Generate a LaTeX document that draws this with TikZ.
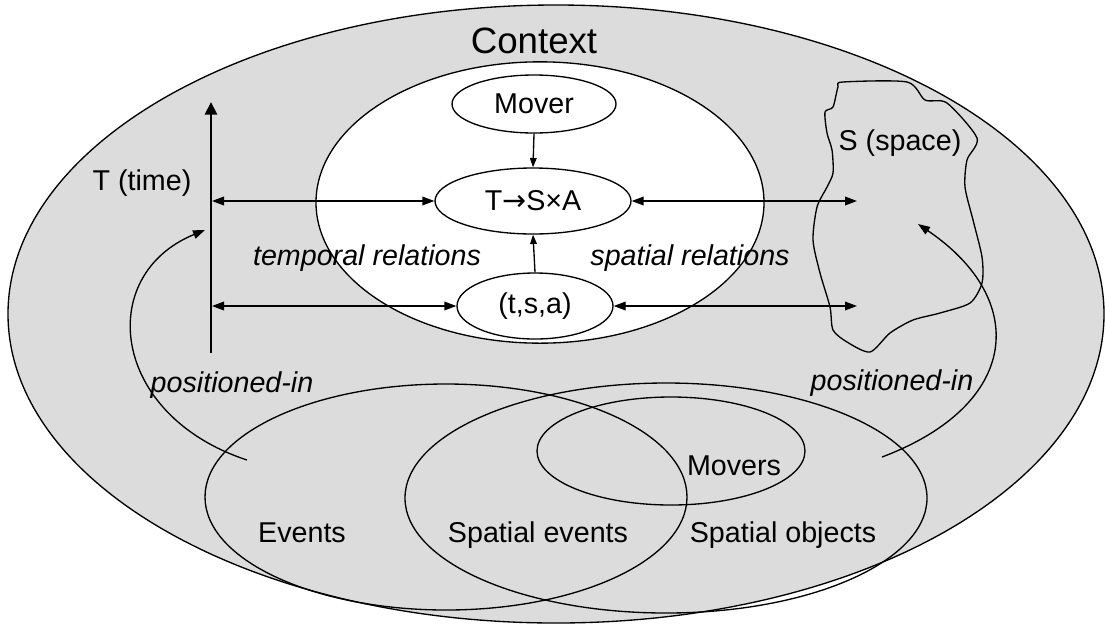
\documentclass[tikz,border=0pt]{standalone}
\usepackage{fontspec}
\setmainfont{Liberation Sans}
\newfontfamily\arrowfont{DejaVu Sans}
\usetikzlibrary{arrows.meta,shapes.geometric}
\definecolor{ctxgray}{RGB}{220,220,220}
\begin{document}
\begin{tikzpicture}[x=0.75pt,y=-0.75pt,
  lbl/.style={font=\fontsize{21.5}{25}\selectfont, inner sep=0pt, text height=15.4pt, text depth=0pt},
  ital/.style={lbl, font=\fontsize{21.5}{25}\selectfont\itshape},
  ell/.style={ellipse, draw, line width=1pt, inner sep=0pt, font=\fontsize{21.5}{25}\selectfont},
  arr/.style={line width=1pt, -{Triangle[length=9pt,width=6.5pt]}},
  sarr/.style={line width=1pt, -{Triangle[length=7pt,width=5pt]}},
  darr/.style={line width=1pt, {Triangle[length=9pt,width=6.5pt]}-{Triangle[length=9pt,width=6.5pt]}},
]
\useasboundingbox (0,0) rectangle (1105,626);
% context
\node[ell, fill=ctxgray, minimum width=822pt, minimum height=463.5pt] (context) at (556,314) {};
\node[ell, fill=white, minimum width=336pt, minimum height=211pt] (inner) at (540,202.5) {};
\node[ell, fill=white, minimum width=123pt, minimum height=43.5pt] (mover) at (534,104) {Mover};
\node[ell, fill=white, minimum width=147pt, minimum height=49.5pt] (tsa) at (533,201) {T{\arrowfont →}S×A};
\node[ell, fill=white, minimum width=117pt, minimum height=49.5pt] (tsa2) at (535,306) {(t,s,a)};
% bottom sets
\node[ell, minimum width=361.5pt, minimum height=169.5pt] (events) at (446,497) {};
\node[ell, minimum width=391.5pt, minimum height=172.5pt] (spatial) at (666,498) {};
\node[ell, minimum width=201pt, minimum height=81pt] (movers) at (671,451) {};
% space blob
\draw[line width=1pt] plot[smooth cycle, tension=0.45] coordinates {
 (843,82) (907,82) (925,100) (947,103) (977,138) (967,160) (965,187) (973,220)
 (982,257) (982,283) (970,303) (940,313) (913,320) (890,333) (870,352) (847,342)
 (833,330) (830,307) (820,273) (813,240) (817,207) (827,187) (833,173) (832,150)
 (827,133) (825,112) (833,107) (838,87)};
% time axis
\coordinate (tbot) at (211,353);
\coordinate (ttop) at (211,102);
\draw[line width=2.2pt, -{Triangle[length=9.5pt,width=9pt]}] (tbot) -- (ttop);
\coordinate (t1) at (212,201);
\coordinate (t2) at (212,306);
\coordinate (s1) at (857,201);
\coordinate (s2) at (857,306);
\draw[darr] (t1) -- (tsa.west);
\draw[darr] (tsa.east) -- (s1);
\draw[darr] (t2) -- (tsa2.west);
\draw[darr] (tsa2.east) -- (s2);
\draw[sarr] (mover.south) -- (tsa.north);
\draw[sarr] (tsa2.north) -- (tsa.south);
% positioned-in curves
\coordinate (pl0) at (247,460);
\coordinate (pl1) at (205,230);
\draw[arr] (pl0) .. controls (110,415) and (95,275) .. (pl1);
\coordinate (pr0) at (882,457);
\coordinate (pr1) at (918,224);
\draw[arr] (pr0) .. controls (1020,405) and (1030,300) .. (pr1);
% labels
\node[lbl, font=\fontsize{27.5}{32}\selectfont, text height=19.7pt] (ctxlbl) at (534,40) {Context};
\node[lbl] (tlbl) at (142,180) {T (time)};
\node[lbl] (slbl) at (900,140) {S (space)};
\node[ital] (temprel) at (367,255) {temporal relations};
\node[ital] (spatrel) at (690,255) {spatial relations};
\node[ital] (posl) at (232,382) {positioned-in};
\node[ital] (posr) at (892,380) {positioned-in};
\node[lbl] (evlbl) at (302,532) {Events};
\node[lbl] (selbl) at (538,532) {Spatial events};
\node[lbl] (solbl) at (783,532) {Spatial objects};
\node[lbl] (mvlbl) at (734,465) {Movers};
\end{tikzpicture}
\end{document}
